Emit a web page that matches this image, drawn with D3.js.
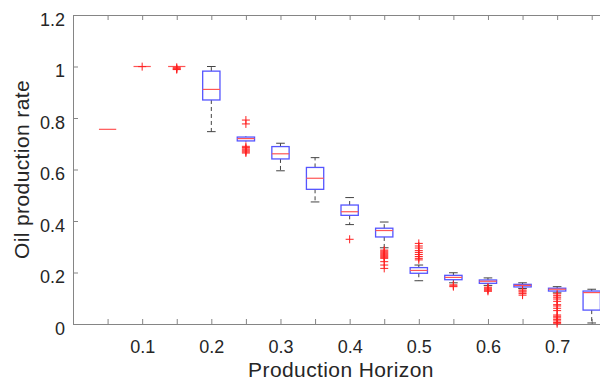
<!DOCTYPE html>
<html>
<head>
<meta charset="utf-8">
<script src="https://cdn.jsdelivr.net/npm/d3@7"></script>
<style>
body { margin: 0; background: #fff; }
svg { display: block; font-family: "Liberation Sans", Arial, sans-serif; }
</style>
</head>
<body>
<script>
// horizon groups, one box per group
var categories = ['0.05', '0.1', '0.15', '0.2', '0.25', '0.3', '0.35', '0.4',
                  '0.45', '0.5', '0.55', '0.6', '0.65', '0.7', '0.75'];
var lowWhisk  = [0.756, 1.0, 1.0, 0.747, 0.708, 0.595, 0.474, 0.386, 0.296, 0.168, 0.160, 0.150, 0.138, 0.121, 0.004];
var q1s       = [0.756, 1.0, 1.0, 0.870, 0.711, 0.641, 0.523, 0.422, 0.338, 0.197, 0.172, 0.158, 0.144, 0.128, 0.054];
var medians   = [0.756, 1.0, 1.0, 0.911, 0.720, 0.661, 0.566, 0.436, 0.363, 0.208, 0.181, 0.166, 0.150, 0.135, 0.122];
var q3s       = [0.756, 1.0, 1.0, 0.982, 0.726, 0.689, 0.608, 0.462, 0.372, 0.219, 0.189, 0.171, 0.154, 0.139, 0.128];
var highWhisk = [0.756, 1.0, 1.0, 1.000, 0.729, 0.702, 0.646, 0.491, 0.396, 0.229, 0.199, 0.179, 0.160, 0.145, 0.135];
var outliers = [
  [],
  [0.9995],
  [0.997, 0.993, 0.990, 0.988],
  [],
  [0.792, 0.777, 0.690, 0.685, 0.680, 0.676, 0.672, 0.668, 0.664],
  [],
  [],
  [0.329],
  [0.287, 0.283, 0.279, 0.275, 0.271, 0.267, 0.263, 0.259, 0.255, 0.242, 0.229, 0.216],
  [0.313, 0.303, 0.295, 0.285, 0.278, 0.270, 0.262, 0.255, 0.249],
  [0.152, 0.148, 0.145],
  [0.143, 0.139, 0.135, 0.131, 0.127],
  [0.132, 0.128, 0.124, 0.118, 0.112],
  [0.117, 0.110, 0.104, 0.097, 0.088, 0.075, 0.070, 0.061, 0.052, 0.035, 0.030, 0.024, 0.018, 0.012, 0.006, 0.001],
  []
];
var yTicks = [0, 0.2, 0.4, 0.6, 0.8, 1, 1.2];

var W = 600, H = 381;
var mLeft = 73, mTop = 15, mBottom = 324, mRight = 609;

var svg = d3.select('body').append('svg')
   .attr('width', W)
   .attr('height', H);

var x = d3.scaleLinear().domain([0, 15.5]).range([mLeft, mRight]);
var y = d3.scaleLinear().domain([0, 1.2]).range([mBottom, mTop]);

var axisCol = '#858585', textCol = '#262626';

// axes
var gx = svg.append('g')
   .attr('transform', 'translate(0,' + mBottom + ')')
   .call(d3.axisBottom(x)
      .tickValues(d3.range(1, categories.length + 1))
      .tickSizeInner(-5).tickSizeOuter(0).tickPadding(16)
      .tickFormat(function(d) { return d % 2 == 0 ? categories[d - 1] : ''; }));
var gt = svg.append('g')
   .attr('transform', 'translate(0,' + mTop + ')')
   .call(d3.axisTop(x)
      .tickValues(d3.range(1, categories.length + 1))
      .tickSizeInner(-5).tickSizeOuter(0)
      .tickFormat(''));
var gy = svg.append('g')
   .attr('transform', 'translate(' + mLeft + ',0)')
   .call(d3.axisLeft(y)
      .tickValues(yTicks)
      .tickSizeInner(-5).tickSizeOuter(0).tickPadding(8)
      .tickFormat(d3.format('~g')));
[gx, gt, gy].forEach(function(g) {
    g.select('.domain').attr('stroke', axisCol);
    g.selectAll('.tick line').attr('stroke', axisCol);
    g.selectAll('text').attr('fill', textCol).style('font-size', '18px')
      .attr('font-family', null);
});
gy.selectAll('text').attr('dy', '0.57em');

svg.append('text')
   .attr('x', (mLeft + mRight) / 2)
   .attr('y', 377)
   .attr('text-anchor', 'middle')
   .attr('fill', textCol)
   .style('font-size', '21px')
   .style('letter-spacing', '0.4px')
   .text('Production Horizon');
svg.append('text')
   .attr('transform', 'translate(29,' + ((mTop + mBottom) / 2) + ') rotate(-90)')
   .attr('text-anchor', 'middle')
   .attr('fill', textCol)
   .style('font-size', '21px')
   .style('letter-spacing', '0.4px')
   .text('Oil production rate');

// boxes
var bw = (x(1) - x(0)) * 0.25;
var cw = bw / 2;
var data = categories.map(function(c, i) {
    return {
        pos: i + 1, lo: lowWhisk[i], q1: q1s[i], med: medians[i],
        q3: q3s[i], hi: highWhisk[i], out: outliers[i]
    };
});

var g = svg.selectAll('g.box').data(data).enter().append('g').attr('class', 'box');

// whiskers (dashed)
g.filter(function(d) { return d.hi > d.q3; }).append('line')
   .attr('x1', function(d) { return x(d.pos); }).attr('x2', function(d) { return x(d.pos); })
   .attr('y1', function(d) { return y(d.q3); }).attr('y2', function(d) { return y(d.hi); })
   .attr('stroke', '#444').attr('stroke-dasharray', '4,3');
g.filter(function(d) { return d.lo < d.q1; }).append('line')
   .attr('x1', function(d) { return x(d.pos); }).attr('x2', function(d) { return x(d.pos); })
   .attr('y1', function(d) { return y(d.q1); }).attr('y2', function(d) { return y(d.lo); })
   .attr('stroke', '#444').attr('stroke-dasharray', '4,3');
// caps
g.filter(function(d) { return d.hi > d.q3 + 0.004; }).append('line')
   .attr('x1', function(d) { return x(d.pos) - cw; }).attr('x2', function(d) { return x(d.pos) + cw; })
   .attr('y1', function(d) { return y(d.hi); }).attr('y2', function(d) { return y(d.hi); })
   .attr('stroke', '#444');
g.filter(function(d) { return d.lo < d.q1 - 0.004; }).append('line')
   .attr('x1', function(d) { return x(d.pos) - cw; }).attr('x2', function(d) { return x(d.pos) + cw; })
   .attr('y1', function(d) { return y(d.lo); }).attr('y2', function(d) { return y(d.lo); })
   .attr('stroke', '#444');

// box
g.filter(function(d) { return d.q3 > d.q1; }).append('rect')
   .attr('x', function(d) { return x(d.pos) - bw; })
   .attr('width', bw * 2)
   .attr('y', function(d) { return y(d.q3); })
   .attr('height', function(d) { return y(d.q1) - y(d.q3); })
   .attr('fill', 'none')
   .attr('stroke', '#5555ff')
   .attr('stroke-width', 1.3);

// median
g.append('line')
   .attr('x1', function(d) { return x(d.pos) - bw; }).attr('x2', function(d) { return x(d.pos) + bw; })
   .attr('y1', function(d) { return y(d.med); }).attr('y2', function(d) { return y(d.med); })
   .attr('stroke', '#ff5555').attr('stroke-width', 1.2);

// outliers as '+'
var ms = 4;
g.selectAll('path.out')
   .data(function(d) { return d.out.map(function(v) { return {pos: d.pos, v: v}; }); })
   .enter().append('path')
   .attr('class', 'out')
   .attr('d', function(o) {
       var cx = x(o.pos), cy = y(o.v);
       return 'M' + (cx - ms) + ',' + cy + 'H' + (cx + ms) + 'M' + cx + ',' + (cy - ms) + 'V' + (cy + ms);
   })
   .attr('stroke', '#ff2020')
   .attr('stroke-width', 1)
   .attr('fill', 'none');
</script>
</body>
</html>
